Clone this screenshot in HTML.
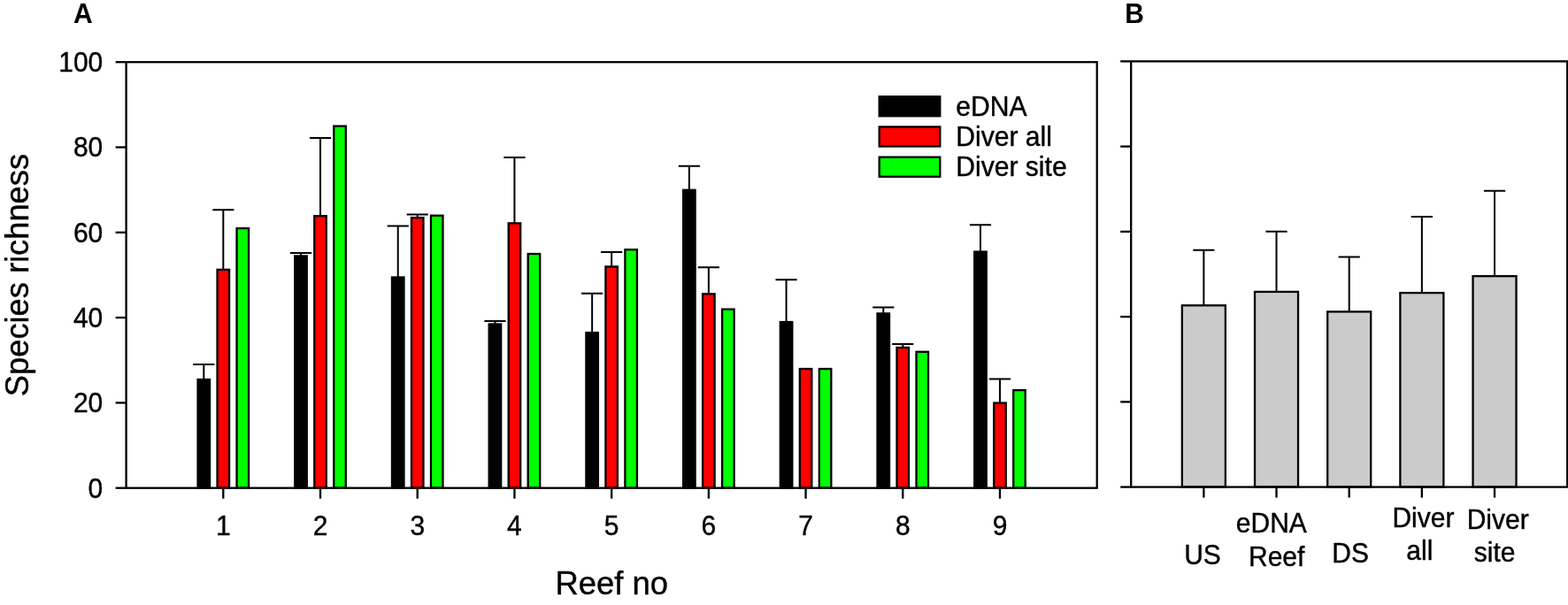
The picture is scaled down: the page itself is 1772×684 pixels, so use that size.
<!DOCTYPE html>
<html lang="en"><head><meta charset="utf-8"><title>Species richness by reef</title>
<style>html,body{margin:0;padding:0;background:#fff;overflow:hidden}svg{display:block}text{font-family:"Liberation Sans",sans-serif;fill:#000;stroke:#000;stroke-width:0.4px}.t30{font-size:30px}.t36{font-size:36px}.b{font-weight:bold;stroke:none}.ax{stroke:#000;stroke-width:2.3;fill:none;stroke-linecap:butt}.eb{stroke:#000;stroke-width:2;fill:none}.bar{stroke:#000;stroke-width:2.3}</style></head><body>
<svg width="1772" height="684" viewBox="0 0 1772 684">
<rect x="0" y="0" width="1772" height="684" fill="#fff"/>
<g id="panelA">
<path class="eb" d="M230.31 428.92V412.07M218.21 412.07H242.41"/>
<rect class="bar" x="223.56" y="429.07" width="13.50" height="122.63" fill="#000"/>
<path class="eb" d="M252.31 304.69V237.28M240.21 237.28H264.41"/>
<rect class="bar" x="245.56" y="304.84" width="13.50" height="246.86" fill="#ff0000"/>
<rect class="bar" x="267.56" y="258.13" width="13.50" height="293.57" fill="#00ff00"/>
<path class="eb" d="M340.02 289.28V285.91M327.92 285.91H352.12"/>
<rect class="bar" x="333.27" y="289.43" width="13.50" height="262.27" fill="#000"/>
<path class="eb" d="M362.02 244.02V155.91M349.92 155.91H374.12"/>
<rect class="bar" x="355.27" y="244.17" width="13.50" height="307.53" fill="#ff0000"/>
<rect class="bar" x="377.27" y="142.57" width="13.50" height="409.13" fill="#00ff00"/>
<path class="eb" d="M449.73 313.36V255.58M437.63 255.58H461.83"/>
<rect class="bar" x="442.98" y="313.51" width="13.50" height="238.19" fill="#000"/>
<path class="eb" d="M471.73 245.95V242.58M459.63 242.58H483.83"/>
<rect class="bar" x="464.98" y="246.10" width="13.50" height="305.60" fill="#ff0000"/>
<rect class="bar" x="486.98" y="243.69" width="13.50" height="308.01" fill="#00ff00"/>
<path class="eb" d="M559.44 366.32V362.95M547.34 362.95H571.54"/>
<rect class="bar" x="552.69" y="366.47" width="13.50" height="185.23" fill="#000"/>
<path class="eb" d="M581.44 252.21V178.06M569.34 178.06H593.54"/>
<rect class="bar" x="574.69" y="252.36" width="13.50" height="299.34" fill="#ff0000"/>
<rect class="bar" x="596.69" y="287.02" width="13.50" height="264.68" fill="#00ff00"/>
<path class="eb" d="M669.15 375.95V331.65M657.05 331.65H681.25"/>
<rect class="bar" x="662.40" y="376.10" width="13.50" height="175.60" fill="#000"/>
<path class="eb" d="M691.15 301.32V284.95M679.05 284.95H703.25"/>
<rect class="bar" x="684.40" y="301.47" width="13.50" height="250.23" fill="#ff0000"/>
<rect class="bar" x="706.40" y="282.21" width="13.50" height="269.49" fill="#00ff00"/>
<path class="eb" d="M778.86 214.65V187.69M766.76 187.69H790.96"/>
<rect class="bar" x="772.11" y="214.80" width="13.50" height="336.90" fill="#000"/>
<path class="eb" d="M800.86 332.14V302.28M788.76 302.28H812.96"/>
<rect class="bar" x="794.11" y="332.29" width="13.50" height="219.41" fill="#ff0000"/>
<rect class="bar" x="816.11" y="349.62" width="13.50" height="202.08" fill="#00ff00"/>
<path class="eb" d="M888.57 363.92V316.25M876.47 316.25H900.67"/>
<rect class="bar" x="881.82" y="364.06" width="13.50" height="187.64" fill="#000"/>
<rect class="bar" x="903.82" y="417.03" width="13.50" height="134.67" fill="#ff0000"/>
<rect class="bar" x="925.82" y="417.03" width="13.50" height="134.67" fill="#00ff00"/>
<path class="eb" d="M998.28 354.28V347.54M986.18 347.54H1010.38"/>
<rect class="bar" x="991.53" y="354.43" width="13.50" height="197.27" fill="#000"/>
<path class="eb" d="M1020.28 392.81V388.95M1008.18 388.95H1032.38"/>
<rect class="bar" x="1013.53" y="392.96" width="13.50" height="158.75" fill="#ff0000"/>
<rect class="bar" x="1035.53" y="397.77" width="13.50" height="153.93" fill="#00ff00"/>
<path class="eb" d="M1107.99 284.47V254.13M1095.89 254.13H1120.09"/>
<rect class="bar" x="1101.24" y="284.62" width="13.50" height="267.08" fill="#000"/>
<path class="eb" d="M1129.99 455.40V428.44M1117.89 428.44H1142.09"/>
<rect class="bar" x="1123.24" y="455.55" width="13.50" height="96.15" fill="#ff0000"/>
<rect class="bar" x="1145.24" y="441.11" width="13.50" height="110.60" fill="#00ff00"/>
<rect class="ax" x="142.60" y="70.20" width="1097.10" height="481.50"/>
<path class="ax" d="M130.60 551.70H142.60"/>
<text class="t30" transform="translate(116.30 562.60) scale(1.000 1.035)" text-anchor="end">0</text>
<path class="ax" d="M130.60 455.40H142.60"/>
<text class="t30" transform="translate(116.30 466.30) scale(1.000 1.035)" text-anchor="end">20</text>
<path class="ax" d="M130.60 359.10H142.60"/>
<text class="t30" transform="translate(116.30 370.00) scale(1.000 1.035)" text-anchor="end">40</text>
<path class="ax" d="M130.60 262.80H142.60"/>
<text class="t30" transform="translate(116.30 273.70) scale(1.000 1.035)" text-anchor="end">60</text>
<path class="ax" d="M130.60 166.50H142.60"/>
<text class="t30" transform="translate(116.30 177.40) scale(1.000 1.035)" text-anchor="end">80</text>
<path class="ax" d="M130.60 70.20H142.60"/>
<text class="t30" transform="translate(116.30 81.10) scale(1.000 1.035)" text-anchor="end">100</text>
<path class="ax" d="M252.31 551.70V563.70"/>
<text class="t30" transform="translate(252.31 605.40) scale(1.000 1.035)" text-anchor="middle">1</text>
<path class="ax" d="M362.02 551.70V563.70"/>
<text class="t30" transform="translate(362.02 605.40) scale(1.000 1.035)" text-anchor="middle">2</text>
<path class="ax" d="M471.73 551.70V563.70"/>
<text class="t30" transform="translate(471.73 605.40) scale(1.000 1.035)" text-anchor="middle">3</text>
<path class="ax" d="M581.44 551.70V563.70"/>
<text class="t30" transform="translate(581.44 605.40) scale(1.000 1.035)" text-anchor="middle">4</text>
<path class="ax" d="M691.15 551.70V563.70"/>
<text class="t30" transform="translate(691.15 605.40) scale(1.000 1.035)" text-anchor="middle">5</text>
<path class="ax" d="M800.86 551.70V563.70"/>
<text class="t30" transform="translate(800.86 605.40) scale(1.000 1.035)" text-anchor="middle">6</text>
<path class="ax" d="M910.57 551.70V563.70"/>
<text class="t30" transform="translate(910.57 605.40) scale(1.000 1.035)" text-anchor="middle">7</text>
<path class="ax" d="M1020.28 551.70V563.70"/>
<text class="t30" transform="translate(1020.28 605.40) scale(1.000 1.035)" text-anchor="middle">8</text>
<path class="ax" d="M1129.99 551.70V563.70"/>
<text class="t30" transform="translate(1129.99 605.40) scale(1.000 1.035)" text-anchor="middle">9</text>
<text class="t36" transform="translate(691.30 671.80) scale(1.012 1.040)" text-anchor="middle">Reef no</text>
<text class="t36" transform="translate(31.60 311.05) rotate(-90) scale(1.008 1.040)" text-anchor="middle">Species richness</text>
<text class="t30 b" transform="translate(83.10 26.00) scale(1.000 1.040)">A</text>
<rect class="bar" x="993.7" y="109.15" width="68.6" height="22.1" fill="#000"/>
<text class="t30" transform="translate(1080.20 130.50) scale(1.004 1.030)">eDNA</text>
<rect class="bar" x="993.7" y="143.40" width="68.6" height="22.1" fill="#ff0000"/>
<text class="t30" transform="translate(1080.20 164.80) scale(1.004 1.030)">Diver all</text>
<rect class="bar" x="993.7" y="177.65" width="68.6" height="22.1" fill="#00ff00"/>
<text class="t30" transform="translate(1080.20 198.90) scale(1.004 1.030)">Diver site</text>
</g>
<g id="panelB">
<path class="eb" d="M1360.37 345.30V282.80M1348.27 282.80H1372.47"/>
<rect class="bar" x="1335.87" y="345.30" width="49.00" height="205.30" fill="#cbcbcb"/>
<path class="eb" d="M1442.53 329.90V261.70M1430.43 261.70H1454.63"/>
<rect class="bar" x="1418.03" y="329.90" width="49.00" height="220.70" fill="#cbcbcb"/>
<path class="eb" d="M1524.70 352.40V290.50M1512.60 290.50H1536.80"/>
<rect class="bar" x="1500.20" y="352.40" width="49.00" height="198.20" fill="#cbcbcb"/>
<path class="eb" d="M1606.87 331.10V244.90M1594.77 244.90H1618.97"/>
<rect class="bar" x="1582.37" y="331.10" width="49.00" height="219.50" fill="#cbcbcb"/>
<path class="eb" d="M1689.03 312.20V215.80M1676.93 215.80H1701.13"/>
<rect class="bar" x="1664.53" y="312.20" width="49.00" height="238.40" fill="#cbcbcb"/>
<rect class="ax" x="1278.20" y="69.35" width="493.00" height="481.25"/>
<path class="ax" d="M1266.20 550.60H1278.20"/>
<path class="ax" d="M1266.20 454.35H1278.20"/>
<path class="ax" d="M1266.20 358.10H1278.20"/>
<path class="ax" d="M1266.20 261.85H1278.20"/>
<path class="ax" d="M1266.20 165.60H1278.20"/>
<path class="ax" d="M1266.20 69.35H1278.20"/>
<path class="ax" d="M1360.37 550.60V562.60"/>
<path class="ax" d="M1442.53 550.60V562.60"/>
<path class="ax" d="M1524.70 550.60V562.60"/>
<path class="ax" d="M1606.87 550.60V562.60"/>
<path class="ax" d="M1689.03 550.60V562.60"/>
<text class="t30" transform="translate(1359.00 638.30) scale(1.000 1.030)" text-anchor="middle">US</text>
<text class="t30" transform="translate(1436.80 602.00) scale(1.000 1.030)" text-anchor="middle">eDNA</text>
<text class="t30" transform="translate(1442.70 639.60) scale(1.000 1.030)" text-anchor="middle">Reef</text>
<text class="t30" transform="translate(1526.10 636.40) scale(1.000 1.030)" text-anchor="middle">DS</text>
<text class="t30" transform="translate(1608.40 596.30) scale(1.000 1.030)" text-anchor="middle">Diver</text>
<text class="t30" transform="translate(1604.30 633.00) scale(1.000 1.030)" text-anchor="middle">all</text>
<text class="t30" transform="translate(1692.70 597.70) scale(1.000 1.030)" text-anchor="middle">Diver</text>
<text class="t30" transform="translate(1689.20 634.60) scale(1.000 1.030)" text-anchor="middle">site</text>
<text class="t30 b" transform="translate(1271.20 25.70) scale(1.000 1.040)">B</text>
</g>
</svg></body></html>
